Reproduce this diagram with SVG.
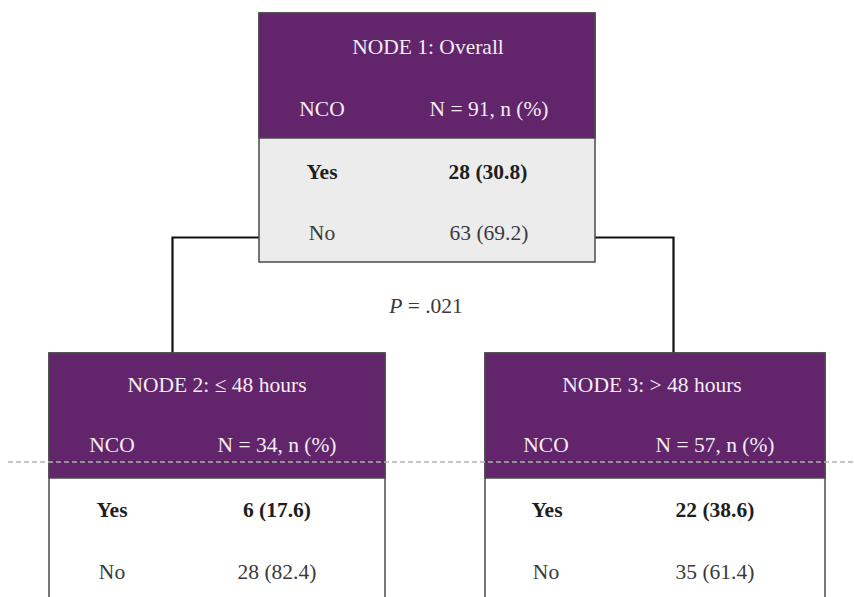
<svg xmlns="http://www.w3.org/2000/svg" width="854" height="597" viewBox="0 0 854 597">
<style>
text{font-family:'Liberation Serif','DejaVu Serif',serif;font-size:21.5px;text-anchor:middle}
.hd{fill:#f3eef4}
.b{font-weight:bold;fill:#1e1e1e}
.n{fill:#3a3a3a}
.head{fill:#62246b}
.box{stroke:#4a4a4a;stroke-width:1.5}
.conn{fill:none;stroke:#111;stroke-width:2.2}
</style>
<rect width="854" height="597" fill="#ffffff"/>
<g id="connectors">
<path class="conn" d="M259,237.5 H172.5 V353"/>
<path class="conn" d="M595,237.5 H673.5 V353"/>
</g>
<text x="426" y="313" class="n"><tspan font-style="italic">P</tspan> = .021</text>
<g id="node1">
<rect x="259" y="13" width="336" height="249" fill="#ececec" class="box"/>
<rect x="259" y="13" width="336" height="125" class="head box"/>
<text x="428" y="54" class="hd">NODE 1: Overall</text>
<text x="322" y="116" class="hd">NCO</text>
<text x="489" y="116" class="hd">N = 91, n (%)</text>
<text x="322" y="179" class="b">Yes</text>
<text x="488" y="179" class="b">28 (30.8)</text>
<text x="322" y="240" class="n">No</text>
<text x="489" y="240" class="n">63 (69.2)</text>
</g>
<g id="node2">
<rect x="49" y="353" width="336" height="260" fill="#ffffff" class="box"/>
<rect x="49" y="353" width="336" height="125" class="head box"/>
<text x="217" y="392" class="hd">NODE 2: ≤ 48 hours</text>
<text x="112" y="452" class="hd">NCO</text>
<text x="277" y="452" class="hd">N = 34, n (%)</text>
<text x="112" y="517" class="b">Yes</text>
<text x="277" y="517" class="b">6 (17.6)</text>
<text x="112" y="579" class="n">No</text>
<text x="277" y="579" class="n">28 (82.4)</text>
</g>
<g id="node3">
<rect x="485" y="353" width="340" height="260" fill="#ffffff" class="box"/>
<rect x="485" y="353" width="340" height="125" class="head box"/>
<text x="652" y="392" class="hd">NODE 3: &gt; 48 hours</text>
<text x="546" y="452" class="hd">NCO</text>
<text x="715" y="452" class="hd">N = 57, n (%)</text>
<text x="547" y="517" class="b">Yes</text>
<text x="715" y="517" class="b">22 (38.6)</text>
<text x="546" y="579" class="n">No</text>
<text x="715" y="579" class="n">35 (61.4)</text>
</g>
<line x1="8" y1="462" x2="854" y2="462" stroke="#b0b0b0" stroke-width="1.5" stroke-dasharray="5,3"/>
</svg>
